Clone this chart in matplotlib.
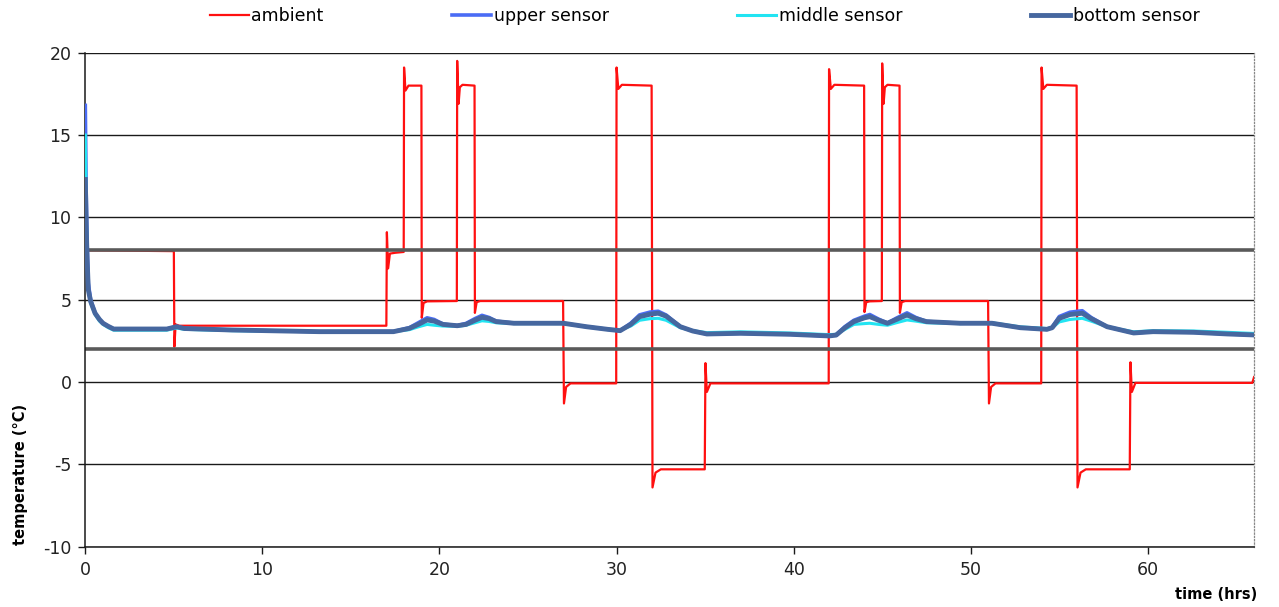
import numpy as np
import matplotlib
matplotlib.use("Agg")
import matplotlib.pyplot as plt

plt.rcParams['font.family'] = ['DejaVu Sans']
plt.rcParams['axes.unicode_minus'] = False

# ambient temperature (step profile of the climate chamber)
amb_t = [0.05, 5.0, 5.03, 5.1, 5.3, 17.0, 17.03, 17.1, 17.2, 17.5, 17.98,
         18.0, 18.08, 18.25, 18.98, 19.0, 19.1, 19.3, 20.98,
         21.0, 21.08, 21.15, 21.3, 21.98, 22.0, 22.1, 22.3, 26.98,
         27.03, 27.15, 27.4, 29.98, 30.0, 30.1, 30.3, 31.98,
         32.03, 32.2, 32.5, 34.98, 35.02, 35.1, 35.3, 41.98,
         42.0, 42.1, 42.3, 43.98, 44.0, 44.1, 44.3, 44.98,
         45.0, 45.08, 45.15, 45.3, 45.98, 46.0, 46.1, 46.3, 50.98,
         51.03, 51.15, 51.4, 53.98, 54.0, 54.1, 54.3, 55.98,
         56.03, 56.2, 56.5, 58.98, 59.02, 59.1, 59.3, 65.9, 66.0]
amb_v = [8.0, 7.95, 2.15, 3.5, 3.42, 3.42, 9.1, 6.9, 7.8, 7.85, 7.9,
         19.1, 17.7, 18.0, 18.0, 3.9, 4.8, 4.9, 4.92,
         19.5, 16.9, 17.9, 18.05, 18.0, 4.2, 4.85, 4.92, 4.92,
         -1.3, -0.3, -0.08, -0.08, 19.1, 17.8, 18.05, 18.0,
         -6.4, -5.5, -5.3, -5.3, 1.15, -0.6, -0.08, -0.08,
         19.0, 17.8, 18.05, 18.0, 4.25, 4.85, 4.9, 4.92,
         19.35, 16.9, 17.9, 18.05, 18.0, 4.2, 4.85, 4.92, 4.92,
         -1.3, -0.3, -0.08, -0.08, 19.1, 17.8, 18.05, 18.0,
         -6.4, -5.5, -5.3, -5.3, 1.2, -0.6, -0.05, -0.05, 0.3]

# sensor readings
sens_t = [0, 0.05, 0.1, 0.17, 0.3, 0.55, 0.8, 1.0, 1.3, 1.6, 2.5, 4.6, 5.16, 5.6,
          8.3, 13.2, 17.4, 18.3, 18.8, 19.3, 19.7, 20.2, 21.0, 21.5, 22.0, 22.4,
          22.8, 23.2, 24.2, 27.0, 28.3, 29.5, 30.2, 30.8, 31.3, 31.9, 32.35, 32.8,
          33.6, 34.3, 35.1, 37.0, 39.8, 42.0, 42.4, 42.9, 43.4, 44.0, 44.3, 44.8,
          45.3, 45.8, 46.4, 46.9, 47.5, 49.4, 51.2, 52.8, 54.3, 54.6, 55.0, 55.6,
          56.3, 56.8, 57.7, 59.2, 60.3, 62.6, 64.5, 66.0]
upper = [16.8, 11.5, 8.5, 6.0, 5.0, 4.2, 3.8, 3.58, 3.38, 3.23, 3.22, 3.22, 3.38, 3.26,
         3.16, 3.06, 3.07, 3.3, 3.6, 3.9, 3.8, 3.52, 3.43, 3.56, 3.85, 4.05,
         3.92, 3.7, 3.58, 3.57, 3.36, 3.2, 3.12, 3.57, 4.08, 4.25, 4.3, 4.07,
         3.36, 3.1, 2.92, 2.96, 2.9, 2.8, 2.87, 3.37, 3.75, 4.0, 4.1, 3.82,
         3.58, 3.88, 4.2, 3.92, 3.68, 3.57, 3.57, 3.3, 3.2, 3.33, 3.98, 4.24,
         4.33, 3.92, 3.36, 2.98, 3.06, 3.02, 2.92, 2.86]
middle = [15.0, 10.5, 8.0, 5.6, 4.8, 4.1, 3.7, 3.5, 3.3, 3.15, 3.15, 3.15, 3.28, 3.2,
          3.12, 3.06, 3.06, 3.18, 3.35, 3.5, 3.45, 3.4, 3.38, 3.45, 3.6, 3.72,
          3.68, 3.6, 3.55, 3.55, 3.36, 3.22, 3.15, 3.4, 3.75, 3.85, 3.87, 3.75,
          3.3, 3.12, 3.0, 3.05, 2.98, 2.88, 2.9, 3.2, 3.5, 3.55, 3.57, 3.5,
          3.45, 3.6, 3.77, 3.7, 3.6, 3.55, 3.6, 3.35, 3.25, 3.3, 3.65, 3.8,
          3.87, 3.7, 3.36, 3.05, 3.12, 3.1, 3.02, 2.95]
bottom = [12.3, 9.5, 7.5, 5.6, 4.9, 4.18, 3.8, 3.57, 3.38, 3.22, 3.22, 3.22, 3.36, 3.25,
          3.16, 3.06, 3.06, 3.26, 3.5, 3.77, 3.7, 3.5, 3.42, 3.5, 3.75, 3.93,
          3.85, 3.67, 3.57, 3.57, 3.36, 3.2, 3.12, 3.5, 3.97, 4.12, 4.18, 4.0,
          3.36, 3.1, 2.92, 2.96, 2.9, 2.8, 2.85, 3.3, 3.67, 3.9, 3.97, 3.75,
          3.57, 3.8, 4.07, 3.85, 3.67, 3.57, 3.57, 3.3, 3.2, 3.3, 3.87, 4.1,
          4.18, 3.85, 3.36, 2.98, 3.06, 3.02, 2.92, 2.86]

# storage limits
limits = [2, 8]

fig = plt.figure(figsize=(12.79, 6.07), dpi=100)
ax = fig.add_axes([0.0667, 0.0993, 0.9138, 0.8139])

ax.plot(amb_t, amb_v, color='#ff1010', lw=1.6, label='ambient', zorder=2)
for lv in limits:
    ax.axhline(lv, color='#5a5a5a', lw=2.6, zorder=2.5)
ax.plot(sens_t, upper, color='#4a6cf5', lw=2.6, label='upper sensor', zorder=3)
ax.plot(sens_t, middle, color='#22e4f2', lw=2.2, label='middle sensor', zorder=3.2)
ax.plot(sens_t, bottom, color='#46679f', lw=3.5, label='bottom sensor', zorder=3.4)

ax.set_xlim(0, 66)
ax.set_ylim(-10, 20)
ax.set_xticks(np.arange(0, 61, 10))
ax.set_yticks(np.arange(-10, 21, 5))
ax.grid(axis='y', color='#1a1a1a', lw=1.0, zorder=1)
ax.set_axisbelow(True)

for s in ['left', 'bottom']:
    ax.spines[s].set_color('#1a1a1a')
    ax.spines[s].set_linewidth(1.1)
ax.spines['top'].set_visible(False)
ax.spines['right'].set_linestyle(':')
ax.spines['right'].set_color('#888888')
ax.spines['right'].set_linewidth(0.9)

ax.tick_params(axis='both', direction='out', length=5, width=1.0, color='#1a1a1a',
               labelsize=12.5, labelcolor='#222222', pad=5)

fig.text(0.016, 0.219, 'temperature (°C)', rotation=90, ha='center', va='center',
         fontsize=10.5, fontweight='bold')
fig.text(0.983, 0.02, 'time (hrs)', ha='right', va='center',
         fontsize=10.5, fontweight='bold')

fig.legend(loc='center left', bbox_to_anchor=(0.164, 0.973), ncol=4, frameon=False,
           fontsize=12.5, handlelength=2.25, handletextpad=0.15, columnspacing=7.4,
           borderpad=0, borderaxespad=0)

fig.savefig('out.png', dpi=100, facecolor='white')
